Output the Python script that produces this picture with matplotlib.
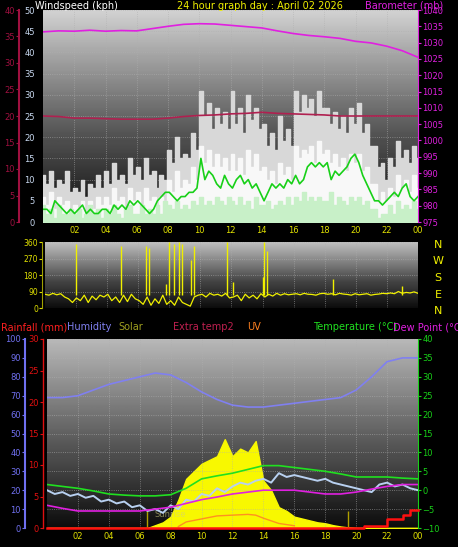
import matplotlib
matplotlib.use('Agg')
import matplotlib.pyplot as plt
import numpy as np

W, H = 458, 547
BG = '#000000'

# ── top panel: wind + barometer (15-min samples) ──
gust = [11,9,12,8,10,9,12,7, 8,7,10,6,9,8,11,8, 12,9,14,10,11,9,15,11, 13,10,15,11,12,8,11,10,
        17,14,20,15,16,15,21,17, 31,25,28,22,27,23,26,22, 31,23,27,21,30,24,27,22,
        23,18,21,17,25,19,22,18, 31,26,30,27,29,25,31,27, 27,23,26,22,25,21,27,23,
        28,21,23,18,18,13,14,10, 15,13,19,15,17,14,18,15]
gust_lo = [6,4,7,3,6,4,5,3, 4,3,5,2,5,3,6,4, 6,4,8,5,6,3,8,5, 7,4,8,5,6,3,6,5,
           10,7,12,8,10,9,13,10, 18,14,17,13,16,13,15,12, 16,12,15,11,17,13,16,12,
           13,10,12,9,14,11,13,10, 18,15,17,16,18,14,19,16, 17,14,16,13,15,12,16,14,
           16,12,13,9,9,5,7,5, 8,6,11,8,10,7,11,8]
avg = [3,3,2,5,4,3,2,3, 2,3,4,2,3,2,2,3, 3,2,4,3,4,3,5,4, 5,4,3,2,3,5,6,7,
       7,6,5,6,6,7,7,8, 15,10,12,11,9,8,11,9, 8,10,11,9,10,8,9,7, 5,7,9,8,9,8,10,9,
       11,9,10,13,14,13,14,13, 14,10,12,11,12,13,15,16, 14,11,9,7,5,5,4,5, 6,7,6,8,9,6,5,6]
lull = [4,2,3,1,4,2,2,3, 2,3,1,2,4,2,3,1, 3,2,4,2,1,3,4,2, 2,4,2,3,2,4,2,5,
        4,3,5,3,4,3,5,4, 6,4,5,4,6,5,4,6, 5,4,6,4,5,3,6,4, 4,5,3,4,5,4,6,4,
        6,5,7,5,6,5,6,5, 5,7,4,6,5,4,6,5, 6,4,5,3,3,1,2,2, 4,2,5,3,4,3,5,3]
baro = [1033.3,1033.6,1033.5,1033.8,1033.5,1033.7,1033.6,1034.3,1035.0,1035.6,1035.8,1035.7,
        1035.3,1034.9,1034.5,1033.6,1032.8,1032.2,1031.8,1031.3,1030.4,1029.9,1028.9,1027.5,1025.5]
extra_top = [20.0,19.9,19.6,19.6,19.5,19.4,19.4,19.4,19.6,19.9,20.1,20.2,20.4,20.5,20.7,20.5,
             20.4,20.3,20.2,20.0,20.0,20.0,20.0,20.0,20.0]

# ── middle panel: wind direction ──
wdir = [75,70,80,72,78,60,50,30, 55,40,70,30,65,45,70,60, 75,40,60,30,70,35,75,50,
        40,20,60,15,50,25,70,20, 40,15,60,30,20,10,60,70, 75,60,80,70,75,65,80,55,
        60,70,40,75,55,70,50,78, 60,75,65,80,70,78,72,75, 78,72,80,75,74,70,78,80,
        75,78,72,80,76,74,70,78, 72,75,78,70,74,76,80,78, 82,78,90,80,85,82,88,80]
spike_t = [2.0,4.9,6.5,6.7,7.8,8.0,8.3,8.6,8.8,9.4,9.6,11.7,12.1,14.0,14.1,14.3,18.5,23.0]
spike_v = [350,340,340,330,130,360,350,360,350,260,340,360,140,170,360,310,160,120]

# ── bottom panel (hourly / 30-min) ──
temp = [1.5,1.0,0.5,-0.2,-1.0,-1.3,-1.5,-1.5,-1.2,0.5,3.0,3.8,4.5,5.5,6.5,6.5,6.0,5.5,5.0,4.3,3.5,3.5,3.5,3.2,3.0]
hum = [69,69,70,73,76,78,80,82,81,77,72,68,65,64,64,65,66,67,68,69,73,80,88,90,90]
dew = [-4.0,-4.8,-5.5,-5.5,-5.5,-5.5,-5.5,-5.0,-4.5,-3.5,-2.5,-1.8,-1.0,-0.5,0.0,0.0,0.0,-0.5,-1.0,-1.0,-0.5,0.3,1.0,1.5,1.5]
extra2 = [0,-1,-0.5,-1.5,-1,-2,-1.5,-3,-2.5,-3.5,-3,-4.5,-4,-5.5,-5,-6,-4,-5,-2.5,-3,-1,-1.5,0.5,-0.5,
          1,2,1.5,2.5,3,2,4.5,3.5,4,3.5,3,2.5,3,2,1.5,1,0.5,0,-0.5,1.5,2,1,1.5,0.5,0]
solar = [0]*14 + [15,30,60,150,260,300,340,360,380,470,380,420,400,460,250,200,110,90,60,50,40,30,25,15,8,3] + [0]*9
uv_t = [8.5,9,10,11,12,13,13.5,14,15,16]
uv = [0.2,0.8,1.2,1.6,1.7,1.8,1.7,1.3,0.6,0.3]
rain_t = [0,20.5,21.5,22,23,23.5,24]
rain = [0,0.3,0.3,1.5,2.0,2.8,2.8]

hours = np.arange(25)
t15 = np.linspace(0, 24, len(gust))
t30 = np.linspace(0, 24, len(solar))
t_ex2 = np.linspace(0, 24, len(extra2))
xticks = np.arange(2, 25, 2)
xlabels = ['%02d' % (h % 24) for h in xticks]

FS = 6


def panel(x0, y0, x1, y1):
    return fig.add_axes([x0 / W, 1 - y1 / H, (x1 - x0) / W, (y1 - y0) / H])


def gradient(ax, top=0.82, mid=0.3):
    g = np.concatenate([np.linspace(top, mid, 50), np.linspace(mid, 0.05, 30)])
    ax.imshow(g[:, None], extent=[0, 1, 0, 1], transform=ax.transAxes, cmap='gray',
              vmin=0, vmax=1, aspect='auto', zorder=0)


def style(ax):
    ax.set_facecolor(BG)
    for s in ax.spines.values():
        s.set_visible(False)
    ax.set_xlim(0, 24)
    ax.set_xticks(xticks)
    ax.grid(True, color='#b0b0b0', ls=':', lw=0.6, alpha=0.7)
    ax.tick_params(axis='x', length=0, colors='#e0e000', labelsize=FS, pad=3)
    ax.set_xticklabels(xlabels)


def left_axis(parent, px, color, lw=1.0):
    a = parent.twinx()
    a.yaxis.set_ticks_position('left')
    a.spines['left'].set_position(('outward', px * 0.72))
    for k in ['right', 'top', 'bottom']:
        a.spines[k].set_visible(False)
    a.spines['left'].set_color(color)
    a.spines['left'].set_linewidth(lw)
    a.tick_params(axis='y', colors=color, labelsize=FS, length=2, pad=1)
    return a


fig = plt.figure(figsize=(W / 100, H / 100), dpi=100, facecolor=BG)

# ---------- top ----------
ax = panel(43, 10, 418, 222)
style(ax)
gradient(ax)
ax.set_ylim(0, 50)
ax.set_yticks(range(0, 51, 5))
ax.tick_params(axis='y', length=0, colors='#c8d8f0', labelsize=FS, pad=6)
ax.fill_between(t15, gust, step='mid', color='#d8d8d8', zorder=2)
ax.fill_between(t15, gust_lo, step='mid', color='#f8f8f8', zorder=2)
ax.fill_between(t15, lull, step='mid', color='#c8f0c8', zorder=3)
ax.plot(t15, avg, color='#18d018', lw=1.2, zorder=4)

axo = left_axis(ax, 24, '#a01040', 1.5)
axo.set_ylim(0, 40)
axo.set_yticks(range(0, 41, 5))
axo.plot(hours, extra_top, color='#b02050', lw=1.2, zorder=5)

axb = ax.twinx()
for k in ['left', 'top', 'bottom']:
    axb.spines[k].set_visible(False)
axb.spines['right'].set_color('#e020e0')
axb.set_ylim(975, 1040)
axb.set_yticks(range(975, 1041, 5))
axb.tick_params(axis='y', colors='#e020e0', labelsize=FS, length=2, pad=1)
axb.plot(hours, baro, color='#e020e0', lw=1.2)

fig.text(35 / W, 1 - 6 / H, 'Windspeed (kph)', color='white', fontsize=7, ha='left', va='center')
fig.text(260 / W, 1 - 6 / H, '24 hour graph day : April 02 2026', color='#f0f000', fontsize=7, ha='center', va='center')
fig.text(443 / W, 1 - 6 / H, 'Barometer (mb)', color='#e020e0', fontsize=7, ha='right', va='center')

# ---------- middle: direction ----------
am = panel(45, 242, 418, 308)
style(am)
gradient(am, top=0.75, mid=0.25)
am.set_ylim(0, 360)
am.set_yticks([0, 90, 180, 270, 360])
am.tick_params(axis='y', colors='#e0e000', labelsize=FS - 0.5, length=2, pad=1)
am.spines['left'].set_visible(True)
am.spines['left'].set_position(('outward', 2))
am.spines['left'].set_color('#a0a000')
am.set_xticklabels([])
am.plot(t15, wdir, color='#f0f000', lw=0.9, zorder=3)
am.vlines(spike_t, 70, spike_v, color='#f0f000', lw=1.0, zorder=3)
for i, c in enumerate(['N', 'W', 'S', 'E', 'N']):
    fig.text(438 / W, 1 - (245 + i * 16.5) / H, c, color='#f0f000', fontsize=8, ha='center', va='center')

# ---------- bottom ----------
axs = panel(47, 339, 418, 528)
style(axs)
gradient(axs, top=0.72, mid=0.3)
axs.set_ylim(0, 1000)
axs.set_yticks(np.linspace(0, 1000, 11))
axs.tick_params(axis='y', length=0, labelleft=False)
axs.fill_between(t30, solar, color='#f8f800', zorder=1)
axs.plot(uv_t, np.array(uv) * 40, color='#ff9020', lw=1.0, zorder=2)
axs.vlines([6.5, 19.5], 0, 90, color='#b0a000', lw=1, zorder=2)
axs.text(8, 60, 'Sunrise', color='#d0d080', fontsize=6, alpha=0.6, ha='center', zorder=2)

axt = axs.twinx()
axt.set_ylim(-10, 40)
axt.set_yticks(range(-10, 41, 5))
axt.tick_params(axis='y', colors='#18d018', labelsize=FS, length=2, pad=1)
for k in ['left', 'top', 'bottom']:
    axt.spines[k].set_visible(False)
axt.spines['right'].set_color('#18d018')
axt.plot(t_ex2, extra2, color='#b8d0f0', lw=1.4)
axt.plot(hours, temp, color='#20e020', lw=1.2)
axt.plot(hours, dew, color='#e020e0', lw=1.2)

axh = left_axis(axs, 22, '#7070f0', 1.5)
axh.set_ylim(0, 100)
axh.set_yticks(range(0, 101, 10))
axh.plot(hours, hum, color='#8080f0', lw=1.2)

axr = left_axis(axs, 4, '#e01010')
axr.set_ylim(0, 30)
axr.set_yticks(range(0, 31, 5))
axr.plot(rain_t, rain, color='#ff1010', lw=1.8, drawstyle='steps-post', clip_on=False)

legend_items = [('Rainfall (mm)', '#ff2020', 1), ('Humidity', '#8080f0', 67), ('Solar', '#a0a020', 118),
                ('Extra temp2', '#c02050', 173), ('UV', '#ff8020', 247), ('Temperature (°C)', '#20e020', 313),
                ('Dew Point (°C', '#e020e0', 393)]
for txt, col, xp in legend_items:
    fig.text(xp / W, 1 - 327 / H, txt, color=col, fontsize=7, ha='left', va='center')

fig.savefig('out.png', dpi=100, facecolor=BG)
